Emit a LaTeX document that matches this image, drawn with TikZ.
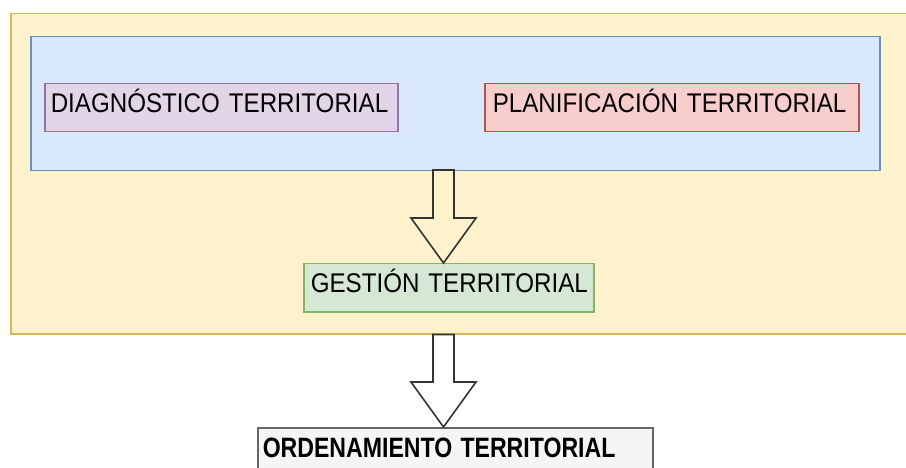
\documentclass[tikz,border=0pt]{standalone}
\usepackage{fontspec}
\setmainfont{Liberation Sans}
\usepackage{graphicx}
\usetikzlibrary{calc}

\definecolor{amarillo}{HTML}{FFF2CC}
\definecolor{amarilloborde}{HTML}{D6B656}
\definecolor{azul}{HTML}{DAE8FC}
\definecolor{azulborde}{HTML}{6C8EBF}
\definecolor{lila}{HTML}{E1D5E7}
\definecolor{lilaborde}{HTML}{9673A6}
\definecolor{rosa}{HTML}{F8CECC}
\definecolor{rosaborde}{HTML}{B85450}
\definecolor{verde}{HTML}{D5E8D4}
\definecolor{verdeborde}{HTML}{82B366}
\definecolor{gris}{HTML}{F5F5F5}
\definecolor{grisborde}{HTML}{666666}
\definecolor{flechagris}{HTML}{333333}

\newcommand{\esp}{\hspace{10pt}}
\newcommand{\etiq}[1]{\scalebox{0.895}[1]{\fontsize{27}{30}\selectfont #1}}
\newcommand{\etiqb}[1]{\scalebox{0.825}[1]{\fontsize{28}{30}\selectfont\bfseries #1}}
\newcommand{\flechabloque}[2]{%
  \draw[flecha] let \p1=(#1), \p2=(#2) in
    (\x1-10.5pt,\y1) -- (\x1-10.5pt,\y2+45pt) -- (\x1-32.5pt,\y2+45pt)
    -- (\x2,\y2) -- (\x1+32.5pt,\y2+45pt) -- (\x1+10.5pt,\y2+45pt)
    -- (\x1+10.5pt,\y1) -- cycle;}

\begin{document}
\begin{tikzpicture}[x=1pt, y=-1pt,
  caja/.style={draw, line width=1.5pt, inner ysep=0pt, text height=29pt,
    text depth=19pt, align=left, anchor=north west},
  flecha/.style={draw=flechagris, line width=1.6pt, line join=miter}]
  \useasboundingbox (0,0) rectangle (906,468);
  \clip (0,0) rectangle (906,468);

  % marco general
  \node[fill=amarillo, draw=amarilloborde, line width=1.5pt, inner sep=0pt,
    minimum width=910pt, minimum height=320pt, anchor=north west] (marco) at (10,13) {};

  % bloque de analisis
  \node[fill=azul, draw=azulborde, line width=1.5pt, inner sep=0pt,
    minimum width=849pt, minimum height=134pt, anchor=north west] (analisis) at (30,36) {};

  \node[caja, fill=lila, draw=lilaborde, inner xsep=6pt, text width=341pt]
    (diag) at (44,83) {\etiq{DIAGNÓSTICO\esp TERRITORIAL}};
  \node[caja, fill=rosa, draw=rosaborde, inner xsep=8pt, text width=358pt]
    (plan) at (484,83) {\etiq{PLANIFICACIÓN\esp TERRITORIAL}};

  % gestion
  \node[caja, fill=verde, draw=verdeborde, inner xsep=7pt, text width=276pt]
    (gestion) at (303,263) {\etiq{GESTIÓN\esp TERRITORIAL}};

  % ordenamiento
  \node[caja, fill=gris, draw=grisborde, inner xsep=5pt, text width=385pt,
    text height=30pt, text depth=25pt] (orden) at (257,427) {\etiqb{ORDENAMIENTO\esp TERRITORIAL}};

  % flechas
  \coordinate (f1a) at (443.5,170);
  \coordinate (f1b) at (gestion.north -| f1a);
  \coordinate (f2a) at (marco.south -| f1a);
  \coordinate (f2b) at (orden.north -| f1a);
  \flechabloque{f1a}{f1b}
  \flechabloque{f2a}{f2b}
\end{tikzpicture}
\end{document}
